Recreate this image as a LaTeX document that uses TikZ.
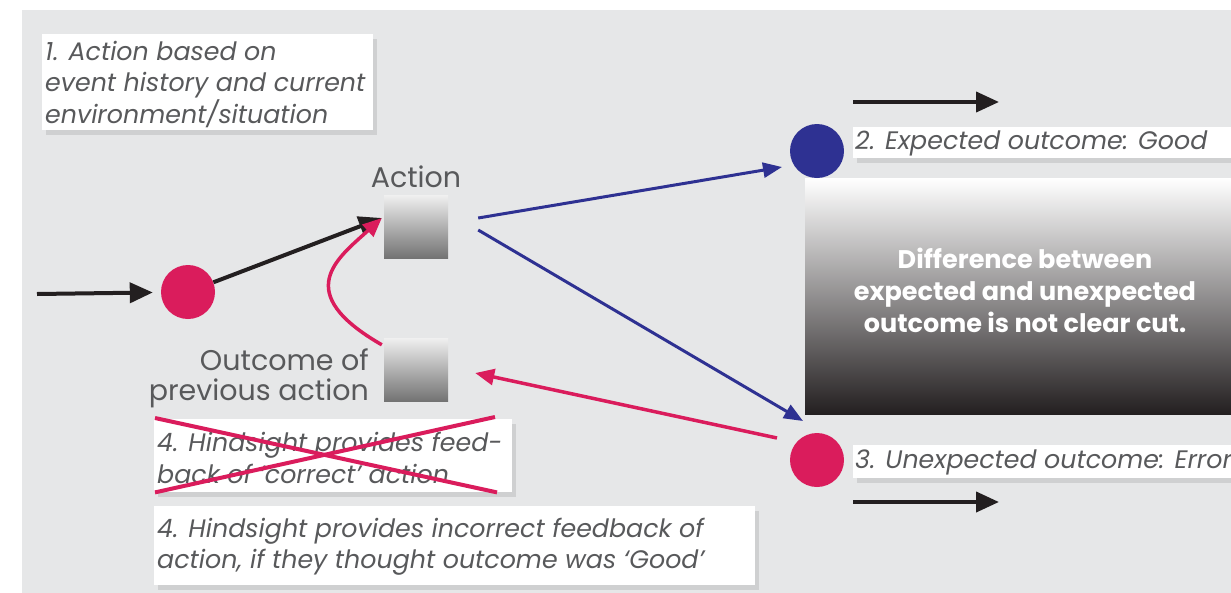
\documentclass[tikz,border=0pt]{standalone}
\usepackage{fontspec}
\setmainfont{Poppins}
\usetikzlibrary{arrows.meta,shadows,calc}
\definecolor{bg}{HTML}{E6E7E8}
\definecolor{txt}{HTML}{58595B}
\definecolor{myred}{HTML}{DA1C5C}
\definecolor{myblue}{HTML}{2E3192}
\definecolor{ink}{HTML}{231F20}
\newcommand{\lblfont}{\fontsize{25.3}{31.5}\selectfont\itshape}
\newcommand{\plainfont}{\fontsize{28.5}{30}\selectfont}
\begin{document}
\begin{tikzpicture}[x=1pt,y=-1pt,
  labelbox/.style={fill=white, drop shadow={opacity=0.22,shadow xshift=4pt,shadow yshift=-5pt},
     inner sep=0pt, anchor=north west},
  labeltext/.style={anchor=west, align=left, text=txt, font=\lblfont, inner sep=0pt},
  sq/.style={minimum width=64pt, minimum height=63pt, inner sep=0pt, top color=black!6, bottom color=black!55, draw=none},
  dot/.style={circle, minimum size=54pt, inner sep=0pt, draw=none},
  blk/.style={draw=ink, line width=4pt, -{Triangle[length=23pt,width=20pt]}},
  blu/.style={draw=myblue, line width=3pt, -{Triangle[length=19pt,width=15pt]}},
  rd/.style={draw=myred, line width=3.5pt, -{Triangle[length=19pt,width=16pt]}},
  plain/.style={text=txt, font=\plainfont, inner sep=0pt}
]
\useasboundingbox (0,0) rectangle (1231,592);
\clip (0,0) rectangle (1231,592);
\fill[bg] (22,10) rectangle (1250,610);

% label boxes
\node[labelbox, minimum width=331pt, minimum height=96pt] (box1) at (42,34) {};
\node[labeltext] (lab1) at ($(box1.west)+(3,2)$)
  {1. Action based on\\event history and current\\environment/situation};
\node[labelbox, minimum width=380pt, minimum height=31pt] (box2) at (853,127) {};
\node[labeltext] (lab2) at ($(box2.west)+(2,1)$) {2. Expected outcome: Good};
\node[labelbox, minimum width=420pt, minimum height=33pt] (box3) at (853,445) {};
\node[labeltext] (lab3) at ($(box3.west)+(2,1)$) {3. Unexpected outcome: Error};
\node[labelbox, minimum width=358pt, minimum height=73pt] (box4) at (154,419) {};
\node[labeltext] (lab4) at ($(box4.west)+(3,2)$) {4. Hindsight provides feed-\\back of `correct' action};
\node[labelbox, minimum width=601pt, minimum height=79pt] (box5) at (154,506) {};
\node[labeltext] (lab5) at ($(box5.west)+(3,1)$)
  {4. Hindsight provides incorrect feedback of\\action, if they thought outcome was `Good'};

% red X over label 4
\draw[myred, line width=4pt] ($(box4.north west)+(1,-1)$) -- ($(box4.south west)+(343,0)$);
\draw[myred, line width=4pt] ($(box4.south west)+(1,0)$) -- ($(box4.north west)+(341,-2)$);

% gradient box
\node[minimum width=440pt, minimum height=236pt, inner sep=0pt, anchor=north west,
  top color=white, bottom color=ink, draw=none] (diff) at (805,178) {};
\node[text=white, font=\fontsize{25.5}{32}\selectfont\bfseries, align=center, inner sep=0pt] (difftxt) at (1025,290)
  {Difference between\\expected and unexpected\\outcome is not clear cut.};

% squares
\node[sq] (act) at (416,226.5) {};
\node[sq] (out) at (416,369.5) {};
\node[plain, anchor=south] (actlab) at (416,188) {Action};
\node[plain, anchor=east, align=right] (outlab) at (369,378) {Outcome of\\previous action};

% circles
\node[dot, fill=myred] (c1) at (188,292) {};
\node[dot, fill=myblue] (good) at (817,151) {};
\node[dot, fill=myred] (err) at (817,460) {};

% arrows
\coordinate (in0) at (37,294);
\draw[blk, shorten >=8pt] (in0) -- (c1);
\draw[blk] (c1) -- ($(act.west)+(-2,-8.5)$);
\draw[rd] ($(out.north west)+(-2,7)$) .. controls (290,292) and (338,258) .. ($(act.west)+(-2,-8.5)$);
\draw[blu] ($(act.east)+(30,-8.5)$) -- ($(good.center)+(-35,16)$);
\draw[blu] ($(act.east)+(30,3.5)$) -- ($(err.center)+(-14,-39)$);
\draw[rd] ($(err.center)+(-40,-22)$) -- ($(out.east)+(27,3.5)$);

\coordinate (g0) at (853,102); \coordinate (g1) at (999,102);
\coordinate (e0) at (853,502); \coordinate (e1) at (999,502);
\draw[blk] (g0) -- (g1);
\draw[blk] (e0) -- (e1);
\end{tikzpicture}
\end{document}
